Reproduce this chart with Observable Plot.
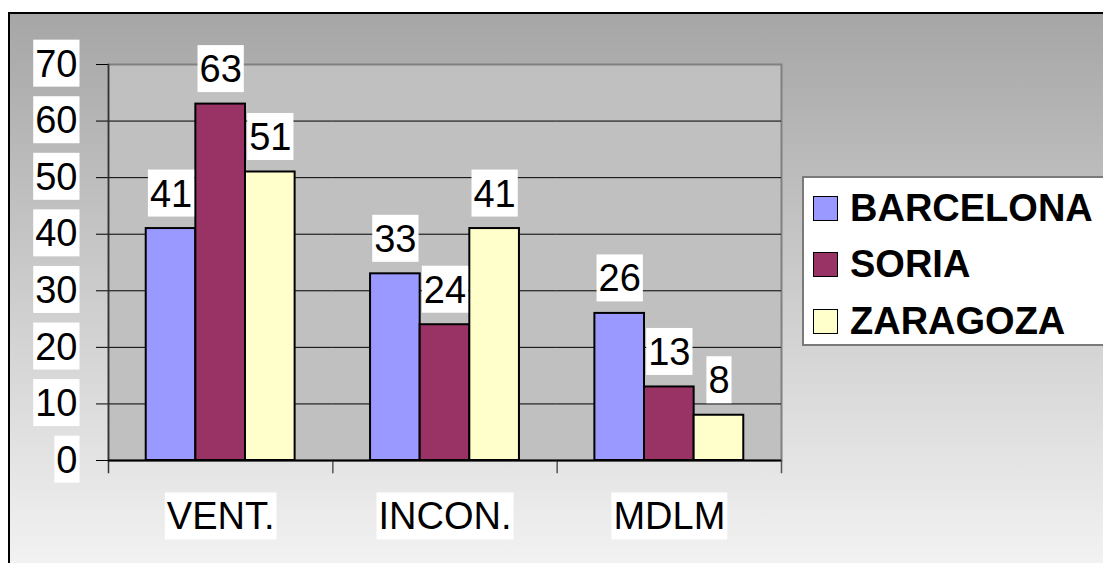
<!DOCTYPE html>
<html>
<head>
<meta charset="utf-8">
<script src="https://cdn.jsdelivr.net/npm/d3@7"></script>
<script src="https://cdn.jsdelivr.net/npm/@observablehq/plot@0.6"></script>
<style>
  html, body { margin: 0; padding: 0; background: #fff; }
  #chart { position: relative; width: 1103px; height: 563px; overflow: hidden;
           font-family: "Liberation Sans", Arial, sans-serif; }
  #bg { position: absolute; left: 8px; top: 12px; right: 0; bottom: 0;
        border-left: 2px solid #000; border-top: 2px solid #000;
        background: linear-gradient(#a6a6a6, #f2f2f2); }
  #chart svg { position: absolute; left: 0; top: 0; }
  #legend { position: absolute; left: 802px; top: 176px; width: 330px; height: 170px;
            box-sizing: border-box; background: #fff; border: 2px solid #7a7a7a;
            padding: 2px 0 0 9px; }
  .row { display: flex; align-items: center; height: 56.5px; font-weight: bold;
         font-size: 38px; color: #000; white-space: nowrap; }
  .sw { width: 25px; height: 25px; box-sizing: border-box; border: 1.5px solid #000;
        margin-right: 12px; flex: none; }
</style>
</head>
<body>
<div id="chart"><div id="bg"></div></div>
<script>
// Categories, series and their values
const categories = ["VENT.", "INCON.", "MDLM"];
const series = ["BARCELONA", "SORIA", "ZARAGOZA"];
const barcelona = [41, 33, 26];
const soria = [63, 24, 13];
const zaragoza = [51, 41, 8];
const colors = ["#9999ff", "#993366", "#ffffcc"];
const yTicks = [0, 10, 20, 30, 40, 50, 60, 70];

const valuesBySeries = [barcelona, soria, zaragoza];
const table = categories.flatMap((cat, i) =>
  series.map((s, j) => ({cat, series: s, value: valuesBySeries[j][i]}))
);

const W = 1103, H = 563, mL = 108, mR = 322, mT = 64, mB = 103;
const font = "'Liberation Sans', Arial, sans-serif";

const plot = Plot.plot({
  width: W, height: H,
  marginLeft: mL, marginRight: mR, marginTop: mT, marginBottom: mB,
  style: {background: "transparent", fontFamily: font, overflow: "visible", color: "#000"},
  fx: {domain: categories, padding: 0, round: false, label: null},
  x: {domain: series, paddingInner: 0, paddingOuter: 0.76, round: false, axis: null},
  y: {domain: [0, 70], label: null},
  color: {domain: series, range: colors},
  marks: [
    // plot area
    Plot.frame({facet: "super", fill: "#c0c0c0", stroke: "#808080", strokeWidth: 2}),
    Plot.gridY(yTicks.slice(0, -1), {stroke: "#000", strokeOpacity: 1, strokeWidth: 1}),
    // axes
    Plot.axisY(yTicks, {tickSize: 12, tickPadding: 19, fontSize: 38, color: "#000", label: null}),
    Plot.axisFx({anchor: "bottom", tickSize: 0, tickPadding: 42, fontSize: 38, color: "#000", label: null}),
    Plot.frame({facet: "super", anchor: "left", stroke: "#333", strokeWidth: 1.5, insetBottom: -12}),
    Plot.frame({anchor: "right", stroke: "#555", strokeWidth: 1.5, insetTop: H - mT - mB, insetBottom: -12}),
    Plot.ruleY([0], {stroke: "#000", strokeWidth: 2}),
    // bars and value labels
    Plot.barY(table, {fx: "cat", x: "series", y: "value", fill: "series", stroke: "#000", strokeWidth: 2}),
    Plot.text(table, {fx: "cat", x: "series", y: "value", text: "value", lineAnchor: "bottom",
                      dy: -22, fontSize: 38, fill: "#000"})
  ]
});

const chart = document.getElementById("chart");
chart.append(plot);

// white boxes behind value labels and tick labels
const sel = 'g[aria-label="text"] text, g[aria-label="y-axis tick label"] text, g[aria-label="fx-axis tick label"] text';
plot.querySelectorAll(sel).forEach(t => {
  const b = t.getBBox();
  const r = document.createElementNS("http://www.w3.org/2000/svg", "rect");
  r.setAttribute("x", b.x - 2);
  r.setAttribute("y", b.y - 3);
  r.setAttribute("width", b.width + 4);
  r.setAttribute("height", b.height + 5);
  r.setAttribute("fill", "#fff");
  r.setAttribute("stroke", "none");
  const tr = t.getAttribute("transform");
  if (tr) r.setAttribute("transform", tr);
  t.parentNode.insertBefore(r, t);
});

// legend built from the plot's color scale
const colorScale = plot.scale("color");
const legend = document.createElement("div");
legend.id = "legend";
colorScale.domain.forEach((name, i) => {
  const row = document.createElement("div");
  row.className = "row";
  const sw = document.createElement("span");
  sw.className = "sw";
  sw.style.background = colorScale.range[i];
  const label = document.createElement("span");
  label.textContent = name;
  row.append(sw, label);
  legend.append(row);
});
chart.append(legend);
</script>
</body>
</html>
